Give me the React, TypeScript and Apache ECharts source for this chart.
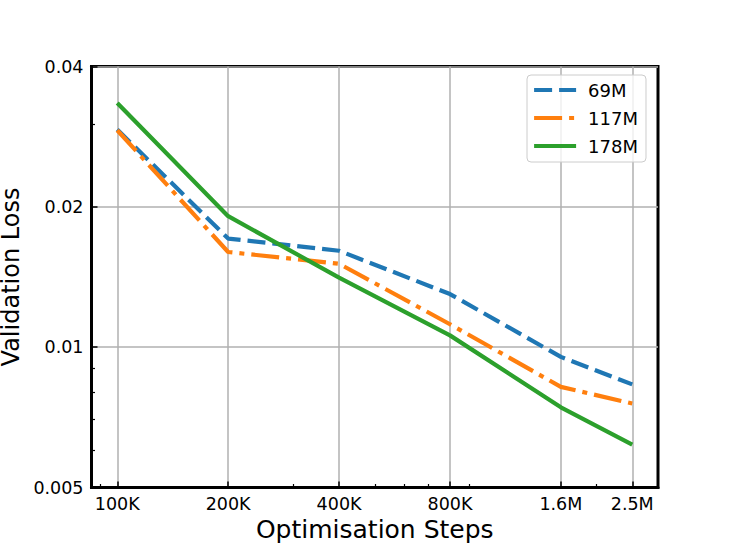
import React, { useEffect, useRef } from "react";
import * as echarts from "echarts";

const steps = [100000, 200000, 400000, 800000, 1600000, 2500000];
const loss69M = [0.0293, 0.0171, 0.0161, 0.013, 0.00953, 0.00832];
const loss117M = [0.0292, 0.016, 0.0151, 0.0112, 0.00822, 0.00757];
const loss178M = [0.0334, 0.0191, 0.0141, 0.0106, 0.00743, 0.00618];
const seriesNames = ["69M", "117M", "178M"];
const seriesColors = ["#1f77b4", "#ff7f0e", "#2ca02c"];

const xTickValues = [100000, 200000, 400000, 800000, 1600000, 2500000];
const xTickLabels = ["100K", "200K", "400K", "800K", "1.6M", "2.5M"];
const xMinorTicks = [90000, 300000, 500000, 600000, 700000, 900000, 2000000];
const yTickValues = [0.005, 0.01, 0.02, 0.04];
const yTickLabels = ["0.005", "0.01", "0.02", "0.04"];
const yMinorTicks = [0.006, 0.007, 0.008, 0.009, 0.03];

const X_MIN = 85134;
const X_MAX = 2936500;
const Y_MIN = 0.005;
const Y_MAX = 0.04;

const FONT = "DejaVu Sans";

function lookup(values: number[], labels: string[], v: number) {
  for (let i = 0; i < values.length; i++) {
    if (Math.abs(Math.log(v) - Math.log(values[i])) < 1e-6) return labels[i];
  }
  return "";
}

export default function App() {
  const ref = useRef<HTMLDivElement>(null);
  useEffect(() => {
    document.body.style.margin = "0";
    if (!ref.current) return;
    const chart = echarts.init(ref.current, null, { renderer: "svg" });
    const dataSets = [loss69M, loss117M, loss178M];
    const dashes: any[] = [[18, 7], [28, 7, 5, 7], "solid"];
    const option: any = {
      animation: false,
      backgroundColor: "#ffffff",
      grid: {
        left: 91.5,
        right: 73,
        top: 66.5,
        bottom: 60.5,
        show: true,
        borderColor: "#000",
        borderWidth: 3,
        backgroundColor: "transparent",
        containLabel: false,
        outerBoundsMode: "none",
      },
      legend: {
        data: seriesNames,
        orient: "vertical",
        left: 527,
        top: 75,
        itemWidth: 42,
        itemHeight: 18,
        itemGap: 10,
        backgroundColor: "rgba(255,255,255,0.8)",
        borderColor: "#cccccc",
        borderWidth: 1,
        borderRadius: 4,
        padding: [6, 8, 7, 5],
        lineStyle: { width: 4.2 },
        itemStyle: { opacity: 0, color: "transparent", borderColor: "transparent", borderWidth: 0 },
        textStyle: { fontFamily: FONT, fontSize: 18, color: "#000", padding: [0, 0, 0, 7] },
      },
      xAxis: [
        {
          type: "log",
          min: X_MIN,
          max: X_MAX,
          position: "bottom",
          name: "Optimisation Steps",
          nameLocation: "middle",
          nameGap: 28.5,
          nameTextStyle: { fontFamily: FONT, fontSize: 25, color: "#000" },
          axisLine: { show: true, onZero: false, lineStyle: { color: "#000", width: 3 } },
          axisTick: {
            show: true,
            inside: true,
            length: 6,
            customValues: xTickValues,
            lineStyle: { color: "#000", width: 1.5 },
          },
          axisLabel: {
            show: true,
            customValues: xTickValues,
            formatter: (v: number) => lookup(xTickValues, xTickLabels, v),
            margin: 7,
            fontFamily: FONT,
            fontSize: 17.5,
            color: "#000",
          },
          splitLine: { show: true, lineStyle: { color: "#b0b0b0", width: 1.5 } },
          minorTick: { show: false },
          minorSplitLine: { show: false },
        },
        {
          type: "log",
          min: X_MIN,
          max: X_MAX,
          position: "bottom",
          axisLine: { show: false },
          axisTick: {
            show: true,
            inside: true,
            length: 3.5,
            customValues: xMinorTicks,
            lineStyle: { color: "#000", width: 1.2 },
          },
          axisLabel: { show: false },
          splitLine: { show: false },
        },
      ],
      yAxis: [
        {
          type: "log",
          min: Y_MIN,
          max: Y_MAX,
          position: "left",
          name: "Validation Loss",
          nameLocation: "middle",
          nameGap: 63,
          nameTextStyle: { fontFamily: FONT, fontSize: 24, color: "#000" },
          axisLine: { show: true, onZero: false, lineStyle: { color: "#000", width: 3 } },
          axisTick: {
            show: true,
            inside: true,
            length: 6,
            customValues: yTickValues,
            lineStyle: { color: "#000", width: 1.5 },
          },
          axisLabel: {
            show: true,
            customValues: yTickValues,
            formatter: (v: number) => lookup(yTickValues, yTickLabels, v),
            margin: 8,
            fontFamily: FONT,
            fontSize: 17.5,
            color: "#000",
          },
          splitLine: { show: true, lineStyle: { color: "#b0b0b0", width: 1.5 } },
          minorTick: { show: false },
          minorSplitLine: { show: false },
        },
        {
          type: "log",
          min: Y_MIN,
          max: Y_MAX,
          position: "left",
          axisLine: { show: false },
          axisTick: {
            show: true,
            inside: true,
            length: 3.5,
            customValues: yMinorTicks,
            lineStyle: { color: "#000", width: 1.2 },
          },
          axisLabel: { show: false },
          splitLine: { show: false },
        },
      ],
      series: seriesNames.map((name, k) => ({
        name,
        type: "line",
        xAxisIndex: 0,
        yAxisIndex: 0,
        data: steps.map((s, i) => [s, dataSets[k][i]]),
        showSymbol: false,
        symbol: "none",
        lineStyle: { color: seriesColors[k], width: 4.2, type: dashes[k], cap: "butt" },
        itemStyle: { color: seriesColors[k] },
        z: 3 + k,
      })),
    };
    chart.setOption(option);
    return () => chart.dispose();
  }, []);
  return <div ref={ref} style={{ width: 731, height: 548 }} />;
}
